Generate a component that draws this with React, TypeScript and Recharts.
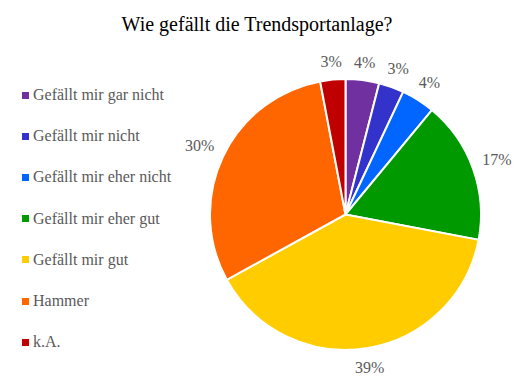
import { PieChart, Pie, Cell, Legend } from "recharts";

const categories = [
  "Gefällt mir gar nicht",
  "Gefällt mir nicht",
  "Gefällt mir eher nicht",
  "Gefällt mir eher gut",
  "Gefällt mir gut",
  "Hammer",
  "k.A.",
];
const shares = [4, 3, 4, 17, 39, 30, 3];
const colors = ["#7030A0", "#3333CC", "#0066FF", "#009900", "#FFCC00", "#FF6600", "#C00000"];

const data = categories.map((name, i) => ({ name, value: shares[i] }));

const RAD = Math.PI / 180;
const FONT = "Liberation Serif, Tinos, Times New Roman, DejaVu Serif, serif";

// place the label box just outside the rim, like Excel's "outside end"
const renderLabel = (props: any) => {
  const { cx, cy, midAngle, outerRadius, value } = props;
  const c = Math.cos(-midAngle * RAD);
  const s = Math.sin(-midAngle * RAD);
  const halfW = String(value).length > 1 ? 14 : 10;
  const r = outerRadius + 10 + halfW * Math.abs(c) + 7 * Math.abs(s);
  const x = cx + r * c;
  const y = cy + r * s;
  return (
    <text x={x} y={y} textAnchor="middle" dominantBaseline="central" fill="#595959" style={{ fontFamily: FONT, fontSize: 16 }}>
      {value}%
    </text>
  );
};

const renderLegend = () => (
  <div style={{ position: "relative", width: 200, height: 390 }}>
    {categories.map((c, i) => (
      <div
        key={c}
        style={{
          position: "absolute",
          left: 22,
          top: 95 + i * 41.2 - 10,
          height: 20,
          display: "flex",
          alignItems: "center",
          fontFamily: FONT,
          fontSize: 16,
          color: "#595959",
          whiteSpace: "nowrap",
        }}
      >
        <span style={{ display: "inline-block", width: 7, height: 7, background: colors[i], marginRight: 4 }} />
        {c}
      </div>
    ))}
  </div>
);

export default function App() {
  return (
    <div style={{ position: "absolute", left: 0, top: 0, width: 518, height: 390, background: "#fff" }}>
      <PieChart width={518} height={390} margin={{ top: 0, right: 0, bottom: 0, left: 0 }}>
        <text x={257} y={24} textAnchor="middle" dominantBaseline="central" fill="#000" style={{ fontFamily: FONT, fontSize: 20 }}>
          Wie gefällt die Trendsportanlage?
        </text>
        <Pie
          data={data}
          dataKey="value"
          nameKey="name"
          cx={345.5}
          cy={214.5}
          outerRadius={135.5}
          startAngle={90}
          endAngle={-270}
          stroke="#fff"
          strokeWidth={2}
          label={renderLabel}
          labelLine={false}
          isAnimationActive={false}
        >
          {data.map((d, i) => (
            <Cell key={d.name} fill={colors[i]} />
          ))}
        </Pie>
        <Legend
          content={renderLegend}
          wrapperStyle={{ position: "absolute", left: 0, top: 0, width: 200, height: 390 }}
        />
      </PieChart>
    </div>
  );
}
